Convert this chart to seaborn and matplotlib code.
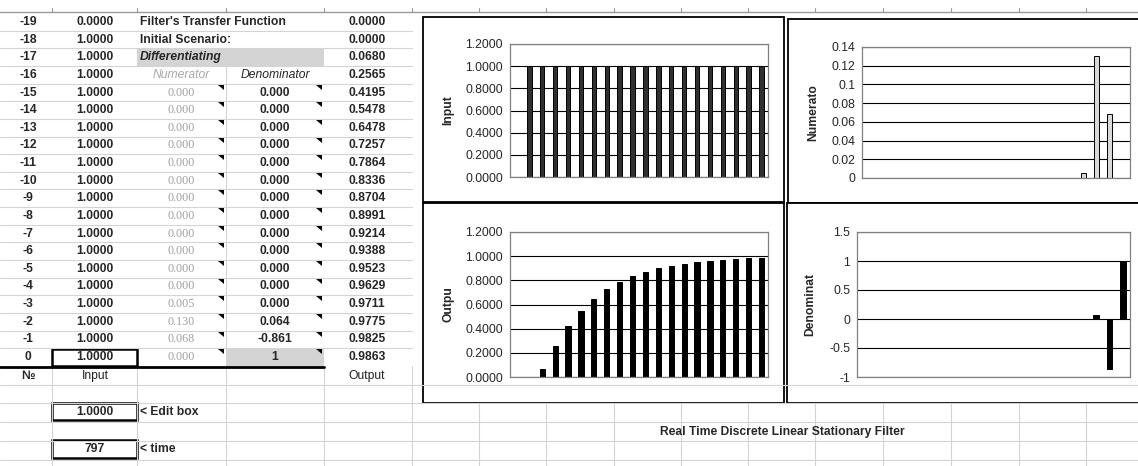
import matplotlib

matplotlib.use("Agg")
import matplotlib.pyplot as plt
import pandas as pd
import seaborn as sns
from matplotlib.patches import Polygon, Rectangle

sns.set_theme(style="white")
plt.rcParams["font.family"] = ["Liberation Sans", "DejaVu Sans"]

W, H = 1138, 466

# ---- data ----
STEPS = [-19, -18, -17, -16, -15, -14, -13, -12, -11, -10,
         -9, -8, -7, -6, -5, -4, -3, -2, -1, 0]
INPUT = [0.0000, 1.0000, 1.0000, 1.0000, 1.0000, 1.0000, 1.0000, 1.0000, 1.0000, 1.0000,
         1.0000, 1.0000, 1.0000, 1.0000, 1.0000, 1.0000, 1.0000, 1.0000, 1.0000, 1.0000]
OUTPUT = [0.0000, 0.0000, 0.0680, 0.2565, 0.4195, 0.5478, 0.6478, 0.7257, 0.7864, 0.8336,
          0.8704, 0.8991, 0.9214, 0.9388, 0.9523, 0.9629, 0.9711, 0.9775, 0.9825, 0.9863]
COEF_STEPS = [-15, -14, -13, -12, -11, -10, -9, -8, -7, -6, -5, -4, -3, -2, -1, 0]
NUMERATOR = [0.000, 0.000, 0.000, 0.000, 0.000, 0.000, 0.000, 0.000,
             0.000, 0.000, 0.000, 0.000, 0.005, 0.130, 0.068, 0.000]
DENOMINATOR = [0.000, 0.000, 0.000, 0.000, 0.000, 0.000, 0.000, 0.000,
               0.000, 0.000, 0.000, 0.000, 0.000, 0.064, -0.861, 1]

SIGNAL_TICKS = [0.0, 0.2, 0.4, 0.6, 0.8, 1.0, 1.2]
SIGNAL_LABELS = ["0.0000", "0.2000", "0.4000", "0.6000", "0.8000", "1.0000", "1.2000"]
NUM_TICKS = [0.0, 0.02, 0.04, 0.06, 0.08, 0.10, 0.12, 0.14]
NUM_LABELS = ["0", "0.02", "0.04", "0.06", "0.08", "0.1", "0.12", "0.14"]
DEN_TICKS = [-1.0, -0.5, 0.0, 0.5, 1.0, 1.5]
DEN_LABELS = ["-1", "-0.5", "0", "0.5", "1", "1.5"]

HEADER_LINES = ["Filter's Transfer Function", "Initial Scenario:", "Differentiating"]
EDIT_VALUE = "1.0000"
TIME_VALUE = "797"
SHEET_TITLE = "Real Time Discrete Linear Stationary Filter"

# ---- sheet geometry (pixels) ----
ROW_TOP = 13.2
ROW_H = 17.63
COL_EDGES = [52, 137, 226, 324, 412, 479, 546, 614, 681, 748, 815, 883, 951, 1019, 1086]
GRID = "#d4d4d4"
FS = 8.7


def row_top(i):
    return ROW_TOP + ROW_H * i


def row_mid(i):
    return row_top(i) + ROW_H / 2


fig = plt.figure(figsize=(W / 100, H / 100), dpi=100)
bg = fig.add_axes([0, 0, 1, 1])
bg.set_xlim(0, W)
bg.set_ylim(H, 0)
bg.axis("off")

# spreadsheet grid
bg.plot([0, W], [12, 12], color="#9a9a9a", lw=1)
for x in COL_EDGES:
    bg.plot([x, x], [8, 12], color="#9a9a9a", lw=0.8)
for i in range(1, 20):
    bg.plot([0, 412], [row_top(i), row_top(i)], color=GRID, lw=0.8)
for y in [385, 403, 422, 441, 460]:
    bg.plot([0, W], [y, y], color=GRID, lw=0.8)
for x in COL_EDGES[:5]:
    bg.plot([x, x], [366, H], color=GRID, lw=0.8)
for x in COL_EDGES[5:]:
    bg.plot([x, x], [403, H], color=GRID, lw=0.8)
bg.plot([226, 226], [row_top(3), row_top(20)], color=GRID, lw=0.8)

# shaded cells
bg.add_patch(Rectangle((137, row_top(2)), 187, ROW_H, facecolor="#d4d4d4", edgecolor="none"))
bg.add_patch(Rectangle((226, row_top(19)), 98, ROW_H, facecolor="#d4d4d4", edgecolor="none"))

# table text
for i, (step, x_in, y_out) in enumerate(zip(STEPS, INPUT, OUTPUT)):
    y = row_mid(i)
    bg.text(28, y, str(step), ha="center", va="center", fontsize=FS, fontweight="bold")
    bg.text(95, y, f"{x_in:.4f}", ha="center", va="center", fontsize=FS, fontweight="bold")
    bg.text(367, y, f"{y_out:.4f}", ha="center", va="center", fontsize=FS, fontweight="bold")

bg.text(140, row_mid(0), HEADER_LINES[0], va="center", fontsize=FS, fontweight="bold")
bg.text(140, row_mid(1), HEADER_LINES[1], va="center", fontsize=FS, fontweight="bold")
bg.text(140, row_mid(2), HEADER_LINES[2], va="center", fontsize=FS, fontweight="bold", style="italic")
bg.text(181, row_mid(3), "Numerator", ha="center", va="center", fontsize=FS, style="italic", color="#a8a8a8")
bg.text(275, row_mid(3), "Denominator", ha="center", va="center", fontsize=FS, style="italic")

for k, (num, den) in enumerate(zip(NUMERATOR, DENOMINATOR)):
    i = k + 4
    y = row_mid(i)
    bg.text(181, y, f"{num:.3f}", ha="center", va="center", fontsize=FS,
            family=["Liberation Serif", "DejaVu Serif"], color="#a0a0a0")
    den_txt = f"{den:.3f}" if isinstance(den, float) else str(den)
    bg.text(275, y, den_txt, ha="center", va="center", fontsize=FS, fontweight="bold")
    t = row_top(i)
    for xr in (224, 322):
        bg.add_patch(Polygon([(xr - 6, t + 1), (xr, t + 1), (xr, t + 6)], closed=True,
                             facecolor="black", edgecolor="none"))

bg.plot([0, 324], [366.5, 366.5], color="black", lw=2)
bg.text(28, 376, "№", ha="center", va="center", fontsize=FS, fontweight="bold")
bg.text(95, 376, "Input", ha="center", va="center", fontsize=FS, color="#222222")
bg.text(367, 376, "Output", ha="center", va="center", fontsize=FS, color="#222222")

for (y0, y1) in [(349, 366), (403, 420), (440, 458)]:
    bg.add_patch(Rectangle((52, y0), 85, y1 - y0, facecolor="none", edgecolor="black", lw=1.8))
bg.text(95, 412, EDIT_VALUE, ha="center", va="center", fontsize=FS, fontweight="bold")
bg.text(140, 412, "< Edit box", va="center", fontsize=FS, fontweight="bold")
bg.text(95, 449, TIME_VALUE, ha="center", va="center", fontsize=FS, fontweight="bold")
bg.text(140, 449, "< time", va="center", fontsize=FS, fontweight="bold")

bg.text(782, 432, SHEET_TITLE, ha="center", va="center", fontsize=FS, fontweight="bold")

# chart frames
for (x0, y0, x1, y1) in [(423, 17, 784, 202), (788, 19, 1145, 203),
                         (423, 203, 784, 403), (787, 203, 1145, 403)]:
    bg.add_patch(Rectangle((x0, y0), x1 - x0, y1 - y0, facecolor="white", edgecolor="black", lw=1.3))


def px_axes(x0, y0, x1, y1):
    return fig.add_axes([x0 / W, 1 - y1 / H, (x1 - x0) / W, (y1 - y0) / H])


def bar_panel(ax, steps, values, color, width, ticks, labels, ylabel, label_x):
    df = pd.DataFrame({"step": steps, "value": values})
    sns.barplot(data=df, x="step", y="value", order=STEPS, ax=ax, color=color,
                saturation=1, width=width, edgecolor="black", linewidth=0.7, errorbar=None)
    for p in ax.patches:
        if p.get_height() == 0:
            p.set_visible(False)
    ax.set_xlim(-0.5, len(STEPS) - 0.5)
    ax.set_ylim(ticks[0], ticks[-1])
    ax.set_yticks(ticks)
    ax.set_yticklabels(labels, fontsize=FS)
    ax.set_xticks([])
    ax.set_xlabel("")
    ax.set_ylabel(ylabel, fontsize=FS, fontweight="bold")
    ax.yaxis.set_label_coords(label_x, 0.5)
    ax.grid(axis="y", color="black", lw=0.8)
    ax.set_axisbelow(True)
    ax.tick_params(axis="y", length=3, color="#808080", pad=2)
    for s in ax.spines.values():
        s.set_color("#808080")
        s.set_linewidth(0.9)
    ax.set_facecolor("white")


ax_in = px_axes(510, 44, 768, 177)
bar_panel(ax_in, STEPS, INPUT, "#303030", 0.34, SIGNAL_TICKS, SIGNAL_LABELS, "Input", -0.215)

ax_num = px_axes(862, 47, 1130, 178)
bar_panel(ax_num, COEF_STEPS, NUMERATOR, "#d9d9d9", 0.36, NUM_TICKS, NUM_LABELS, "Numerato", -0.16)

ax_out = px_axes(510, 232, 768, 377)
bar_panel(ax_out, STEPS, OUTPUT, "black", 0.4, SIGNAL_TICKS, SIGNAL_LABELS, "Outpu", -0.215)

ax_den = px_axes(857, 232, 1130, 377)
bar_panel(ax_den, COEF_STEPS, DENOMINATOR, "black", 0.4, DEN_TICKS, DEN_LABELS, "Denominat", -0.15)

fig.savefig("out.png", dpi=100)
